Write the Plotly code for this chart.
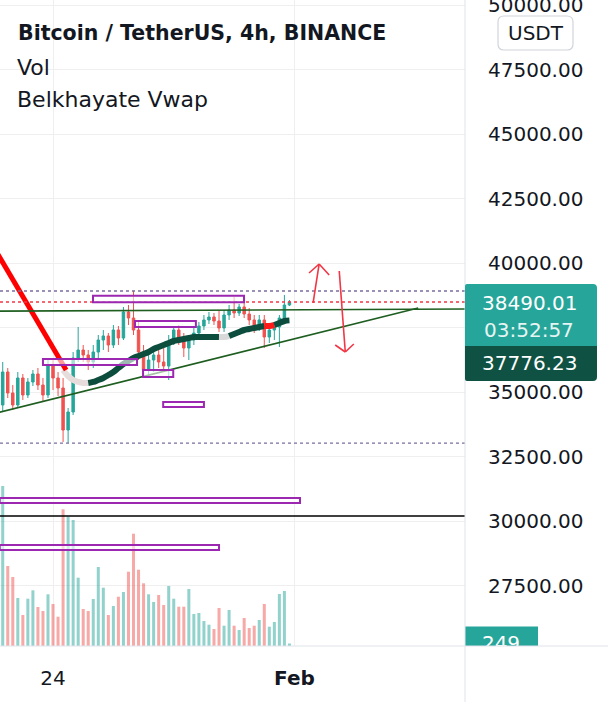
import pandas as pd
import plotly.graph_objects as go

# ---------------- data ----------------
start = pd.Timestamp("2022-01-22 08:00")
bar_hours = 4
times = [start + pd.Timedelta(hours=bar_hours * i) for i in range(58)]

opens = [34496, 35775, 34961, 34496, 35543, 34884, 35388, 35698, 35271, 34884,
         36047, 35543, 35155, 33527, 34225, 36318, 36628, 36434, 36163, 36550,
         37015, 37171, 36822, 37403, 37093, 38101, 37868, 37403, 36550, 35853,
         36240, 36434, 36163, 36008, 36938, 37403, 37015, 36705, 37015, 37287,
         37558, 37791, 37907, 37752, 37481, 37985, 38178, 38062, 38295, 38023,
         37791, 37481, 37791, 37132, 37403, 37519, 37868, 38372]
highs = [36163, 35930, 35271, 35775, 35698, 35543, 35853, 35930, 35543, 36318,
         36240, 35775, 35543, 34380, 36550, 37519, 36822, 36628, 36822, 37209,
         37403, 37287, 37597, 37558, 38295, 38372, 38919, 37713, 36822, 36434,
         36628, 36628, 36705, 37209, 37519, 37597, 37287, 37209, 37481, 37713,
         37985, 38101, 38062, 38178, 38178, 38372, 38682, 38411, 38488, 38256,
         37985, 37985, 37985, 37597, 37674, 37985, 38760, 38566]
lows = [34225, 34767, 34302, 34380, 34690, 34767, 35232, 35077, 34612, 34767,
        35077, 34845, 33062, 33023, 34108, 36163, 36163, 35853, 35930, 36318,
        36628, 36550, 36705, 36822, 37015, 37597, 37209, 36240, 35543, 35659,
        35775, 35930, 35775, 35465, 36822, 36822, 36357, 36240, 36822, 37093,
        37403, 37636, 37597, 37326, 37326, 37791, 37868, 37946, 37868, 37597,
        37287, 37364, 36705, 36899, 37015, 36744, 37713, 38333]
closes = [35775, 34961, 34496, 35543, 34884, 35388, 35698, 35271, 34884, 36047,
          35543, 35155, 33527, 34225, 36318, 36628, 36434, 36163, 36550, 37015,
          37171, 36822, 37403, 37093, 38101, 37868, 37403, 36550, 35853, 36240,
          36434, 36163, 36008, 36938, 37403, 37015, 36705, 37015, 37287, 37558,
          37791, 37907, 37752, 37481, 37985, 38178, 38062, 38295, 38023, 37791,
          37481, 37791, 37132, 37403, 37519, 37868, 38372, 38490.01]
volumes = [16000, 8000, 6900, 4800, 3100, 4730, 5570, 3900, 3500, 5170,
           4200, 2930, 13670, 12930, 12600, 6830, 3700, 3500, 4700, 7900,
           5830, 3100, 4000, 4930, 5400, 7430, 11230, 7630, 6270, 5170,
           4400, 5100, 4100, 6000, 4730, 3930, 3930, 5700, 3200, 3300,
           2500, 2130, 1700, 3800, 2030, 3600, 2030, 1600, 2800, 1800,
           2030, 2600, 4200, 1930, 2400, 5200, 5500, 249]

# Belkhayate VWAP (starts at bar 12)
vwap_start = 12
vwap = [35853, 35620, 35465, 35388, 35349, 35349, 35388, 35465, 35543, 35659,
        35775, 35930, 36085, 36202, 36318, 36395, 36473, 36550, 36667, 36744,
        36822, 36899, 36977, 37015, 37054, 37093, 37132, 37132, 37132, 37132,
        37132, 37132, 37132, 37171, 37248, 37326, 37403, 37442, 37481, 37519,
        37558, 37558, 37597, 37674, 37752, 37776.23]
vwap_state = (["start"] * 5 + ["up"] * 26 + ["flat"] * 2 + ["up"] * 7
              + ["down"] * 2 + ["up"] * 4)

countdown = "03:52:57"

# drawings: (bar index, price)
red_trend = [(-3.5, 41180), (12.6, 35850)]
resistance = [(-5, 38130), (95, 38220)]
support = [(-0.6, 34220), (82.6, 38256)]
dotted_levels = [38915, 33020]
black_level = 30194
zones = [(17.95, 47.97, 38479, 38733), (26.3, 38.4, 37519, 37752),
         (8.0, 26.7, 36047, 36279), (27.9, 33.9, 35581, 35853),
         (31.9, 40.0, 34418, 34612), (-0.6, 59.1, 30698, 30891),
         (-0.6, 43.0, 28876, 29070)]
arrow_up = [(61.7, 38450), (62.9, 39961)]
arrow_up_head = [(60.9, 39612), (62.9, 39961), (64.9, 39535)]
arrow_dn = [(66.9, 39690), (68.1, 36550)]
arrow_dn_head = [(66.1, 36822), (68.1, 36550), (69.8, 36860)]

price_ticks = [27500, 30000, 32500, 35000, 37500, 40000, 42500, 45000, 47500, 50000]
hidden_ticks = [37500]

# ---------------- geometry ----------------
W, H = 608, 702
PLOT_R = 465          # right edge of the chart pane (px)
PLOT_B = 646          # bottom edge of the chart pane (px)
Y_RANGE = [25155, 50194]
VOL_RANGE = [0, 64600]
X_RANGE_IDX = [-0.54, 91.9]

UP = "#26a69a"
DOWN = "#ef5350"
TXT = "#131722"
GRID = "#efefef"
FONT = "DejaVu Sans"


def t_at(idx):
    return start + pd.Timedelta(hours=bar_hours * idx)


def price_px(p):
    return (Y_RANGE[1] - p) / (Y_RANGE[1] - Y_RANGE[0]) * PLOT_B


def px_x(x):
    return x / W


def px_y(y):
    return 1 - y / H


fig = go.Figure()

# volume (overlay axis)
vol_colors = ["rgba(38,166,154,0.5)" if c >= o else "rgba(239,83,80,0.5)"
              for o, c in zip(opens, closes)]
fig.add_trace(go.Bar(x=times, y=volumes, marker=dict(color=vol_colors, line=dict(width=0)),
                     width=0.6 * bar_hours * 3600 * 1000, yaxis="y2", hoverinfo="skip"))

fig.add_trace(go.Candlestick(
    x=times, open=opens, high=highs, low=lows, close=closes,
    increasing=dict(line=dict(color=UP, width=1), fillcolor=UP),
    decreasing=dict(line=dict(color=DOWN, width=1), fillcolor=DOWN),
    whiskerwidth=0, hoverinfo="skip"))

# VWAP line, coloured by segment state
state_color = {"start": "#e6dcdc", "up": "#0d4d3d", "flat": "#d9d9d9", "down": "#ff1a1a"}
vx = times[vwap_start:vwap_start + len(vwap)]
seg_start = 0
for k in range(1, len(vwap) + 1):
    if k == len(vwap) or vwap_state[k] != vwap_state[seg_start]:
        end = min(k, len(vwap) - 1)
        fig.add_trace(go.Scatter(x=vx[seg_start:end + 1], y=vwap[seg_start:end + 1],
                                 mode="lines", line=dict(color=state_color[vwap_state[seg_start]],
                                                         width=6, shape="spline"),
                                 hoverinfo="skip"))
        seg_start = k

shapes = []


def seg(p0, p1, color, width, dash="solid"):
    shapes.append(dict(type="line", xref="x", yref="y", layer="above",
                       x0=t_at(p0[0]), y0=p0[1], x1=t_at(p1[0]), y1=p1[1],
                       line=dict(color=color, width=width, dash=dash)))


seg(*red_trend, "#ff0000", 5)
seg(*resistance, "#1e5e20", 1.6)
seg(*support, "#1e5e20", 1.6)
for lvl in dotted_levels:
    seg((X_RANGE_IDX[0], lvl), (X_RANGE_IDX[1], lvl), "#7b6d9e", 1.4, "dot")
seg((X_RANGE_IDX[0], closes[-1]), (X_RANGE_IDX[1], closes[-1]), "#f23645", 1.4, "dot")
seg((X_RANGE_IDX[0], black_level), (X_RANGE_IDX[1], black_level), "#000000", 1.4)
for (i0, i1, p0, p1) in zones:
    shapes.append(dict(type="rect", xref="x", yref="y", layer="above",
                       x0=t_at(i0), x1=t_at(i1), y0=p0, y1=p1,
                       line=dict(color="#9c27b0", width=2), fillcolor="rgba(255,255,255,0.6)"))
seg(*arrow_up, "#f23645", 1.6)
seg(arrow_up_head[0], arrow_up_head[1], "#f23645", 1.6)
seg(arrow_up_head[1], arrow_up_head[2], "#f23645", 1.6)
seg(*arrow_dn, "#f23645", 1.6)
seg(arrow_dn_head[0], arrow_dn_head[1], "#f23645", 1.6)
seg(arrow_dn_head[1], arrow_dn_head[2], "#f23645", 1.6)

# pane separators
shapes.append(dict(type="line", xref="paper", yref="paper", x0=px_x(PLOT_R), x1=px_x(PLOT_R),
                   y0=0, y1=1, line=dict(color="#e0e3eb", width=1)))
shapes.append(dict(type="line", xref="paper", yref="paper", x0=0, x1=1,
                   y0=px_y(PLOT_B), y1=px_y(PLOT_B), line=dict(color="#e0e3eb", width=1)))


def rrect(x0, y0, x1, y1, r=(0, 4, 4, 0)):
    tl, tr, br, bl = r
    P = lambda x, y: f"{px_x(x):.5f},{px_y(y):.5f}"
    return (f"M{P(x0 + tl, y0)} L{P(x1 - tr, y0)} Q{P(x1, y0)} {P(x1, y0 + tr)} "
            f"L{P(x1, y1 - br)} Q{P(x1, y1)} {P(x1 - br, y1)} L{P(x0 + bl, y1)} "
            f"Q{P(x0, y1)} {P(x0, y1 - bl)} L{P(x0, y0 + tl)} Q{P(x0, y0)} {P(x0 + tl, y0)} Z")


annotations = []


def label(text, x, y, size, color=TXT, bold=False, anchor="left"):
    annotations.append(dict(xref="paper", yref="paper", x=px_x(x), y=px_y(y),
                            text=f"<b>{text}</b>" if bold else text, showarrow=False,
                            xanchor=anchor, yanchor="middle",
                            font=dict(family=FONT, size=size, color=color)))


# top tick label (partly outside the page, like the reference)
label(f"{price_ticks[-1]:.2f}", 486, price_px(price_ticks[-1]), 20)

# USDT badge
shapes.append(dict(type="path", xref="paper", yref="paper", layer="above",
                   path=rrect(498, 16, 573, 50, (6, 6, 6, 6)),
                   fillcolor="white", line=dict(color="#d1d4dc", width=1.2)))
label("USDT", 535.5, 33, 20, anchor="center")

# price / countdown / vwap labels on the scale
cy = price_px(closes[-1])
shapes.append(dict(type="path", xref="paper", yref="paper", layer="above",
                   path=rrect(PLOT_R, cy - 18, 597, cy + 44, (2, 4, 0, 0)),
                   fillcolor=UP, line=dict(width=0)))
shapes.append(dict(type="path", xref="paper", yref="paper", layer="above",
                   path=rrect(PLOT_R, cy + 44, 597, cy + 79, (0, 0, 4, 2)),
                   fillcolor="#0f5243", line=dict(width=0)))
label(f"{closes[-1]:.2f}", 529, cy + 1, 20, "white", anchor="center")
label(countdown, 529, cy + 28, 20, "#e6f5f3", anchor="center")
label(f"{vwap[-1]:.2f}", 529, cy + 61, 20, "white", anchor="center")

# legend texts
label("Bitcoin / TetherUS, 4h, BINANCE", 16, 33, 20.5, bold=True)
label("Vol", 15, 67, 22)
label("Belkhayate Vwap", 15, 100, 22)

# volume last-value label (clipped by the pane bottom)
vol_per_px = (VOL_RANGE[1] - VOL_RANGE[0]) / PLOT_B
shapes.append(dict(type="rect", xref="x2", yref="y3", layer="below",
                   x0=0, x1=(538 - PLOT_R) / (W - PLOT_R),
                   y0=volumes[-1] - 3 * vol_per_px, y1=volumes[-1] + 17 * vol_per_px,
                   fillcolor=UP, line=dict(width=0)))
fig.add_trace(go.Scatter(x=[(501 - PLOT_R) / (W - PLOT_R)], y=[volumes[-1] - 1 * vol_per_px],
                         mode="text", text=[str(volumes[-1])], xaxis="x2", yaxis="y3",
                         textfont=dict(family=FONT, size=20, color="white"),
                         cliponaxis=True, hoverinfo="skip"))

tick_text = ["" if t in hidden_ticks else f"{t:.2f}" for t in price_ticks]

fig.update_layout(
    width=W, height=H, margin=dict(l=0, r=0, t=0, b=0),
    paper_bgcolor="white", plot_bgcolor="white", showlegend=False,
    shapes=shapes, annotations=annotations,
    xaxis=dict(type="date", domain=[0, PLOT_R / W], anchor="y",
               range=[t_at(X_RANGE_IDX[0]), t_at(X_RANGE_IDX[1])],
               tickvals=[pd.Timestamp("2022-01-24"), pd.Timestamp("2022-02-01")],
               ticktext=["24", "<b>Feb</b>"], showgrid=True, gridcolor=GRID,
               ticks="outside", ticklen=14, tickcolor="rgba(0,0,0,0)",
               tickfont=dict(family=FONT, size=20, color=TXT),
               rangeslider=dict(visible=False), zeroline=False, showline=False),
    yaxis=dict(domain=[1 - PLOT_B / H, 1], range=Y_RANGE, side="right", anchor="x",
               tickvals=price_ticks, ticktext=tick_text, showgrid=True, gridcolor=GRID,
               ticks="outside", ticklen=18, tickcolor="rgba(0,0,0,0)",
               tickfont=dict(family=FONT, size=20, color=TXT), zeroline=False, showline=False),
    yaxis2=dict(overlaying="y", range=VOL_RANGE, visible=False, showgrid=False),
    xaxis2=dict(domain=[PLOT_R / W, 1], range=[0, 1], anchor="y3", visible=False, showgrid=False),
    yaxis3=dict(domain=[1 - PLOT_B / H, 1], range=VOL_RANGE, anchor="x2", visible=False,
                showgrid=False),
)

fig.write_html("out.html")
